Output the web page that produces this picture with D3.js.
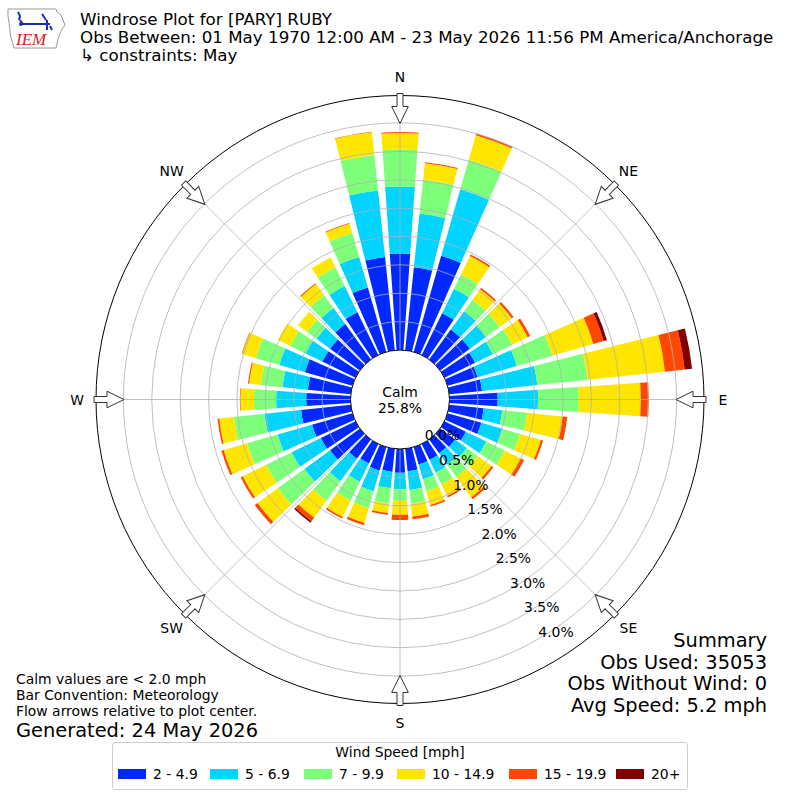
<!DOCTYPE html>
<html><head><meta charset="utf-8">
<script src="https://cdn.jsdelivr.net/npm/d3@7"></script>
<style>
body{margin:0;background:#fff}
svg{display:block}
text{font-family:"DejaVu Sans",sans-serif;fill:#000}
</style>
</head><body><svg id="chart" width="800" height="800"></svg>
<script>
// ---------- data ----------
const directions = d3.range(0, 360, 10);
const speedBins = ["2 - 4.9", "5 - 6.9", "7 - 9.9", "10 - 14.9", "15 - 19.9", "20+"];
const binColors = ["#0028ff", "#00d4ff", "#7dff7a", "#ffe600", "#ff4700", "#800000"];
// percent of observations per direction (0,10,...,350) per speed bin
const bin2to5   = [1.70,1.47,1.76,0.82,0.65,0.65,0.60,0.55,0.58,0.85,0.61,0.62,0.42,0.33,0.30,0.31,0.32,0.40,0.42,0.41,0.43,0.38,0.42,0.65,0.68,0.74,0.88,0.78,0.76,0.87,0.65,0.65,0.77,0.84,1.18,1.65];
const bin5to7   = [1.18,0.95,1.22,0.48,0.40,0.35,0.35,0.72,0.98,0.71,0.33,0.38,0.40,0.25,0.25,0.25,0.27,0.33,0.29,0.29,0.38,0.36,0.49,0.56,0.57,0.63,0.65,0.53,0.45,0.47,0.33,0.30,0.35,0.51,0.56,1.18];
const bin7to10  = [0.65,0.60,0.54,0.28,0.25,0.30,0.38,0.65,0.89,0.72,0.44,0.33,0.36,0.24,0.27,0.23,0.22,0.24,0.20,0.27,0.31,0.37,0.42,0.58,0.50,0.56,0.54,0.39,0.38,0.43,0.30,0.20,0.28,0.37,0.44,0.63];
const bin10to15 = [0.29,0.29,0.45,0.36,0.23,0.26,0.30,0.75,1.37,1.09,0.63,0.38,0.31,0.30,0.44,0.23,0.25,0.23,0.25,0.17,0.27,0.32,0.37,0.44,0.46,0.43,0.26,0.24,0.21,0.25,0.24,0.20,0.24,0.19,0.17,0.40];
const bin15to20 = [0.02,0.02,0.03,0.03,0.03,0.04,0.05,0.19,0.35,0.14,0.08,0.04,0.07,0.04,0.04,0.03,0.03,0.05,0.09,0.03,0.04,0.03,0.08,0.06,0.04,0.04,0.03,0.01,0.02,0.01,0.00,0.00,0.02,0.00,0.01,0.01];
const bin20plus = [0,0,0,0,0,0,0,0.06,0.13,0,0,0,0,0,0,0,0,0,0,0,0,0,0.03,0,0,0,0,0,0,0,0,0,0,0,0,0];
const radialTicks = [0.0, 0.5, 1.0, 1.5, 2.0, 2.5, 3.0, 3.5, 4.0];
const compassLabels = ["N", "NE", "E", "SE", "S", "SW", "W", "NW"];
const calmPct = "25.8%";
const titleLines = ["Windrose Plot for [PARY] RUBY",
  "Obs Between: 01 May 1970 12:00 AM - 23 May 2026 11:56 PM America/Anchorage",
  "\u21b3 constraints: May"];
const noteLines = ["Calm values are < 2.0 mph", "Bar Convention: Meteorology", "Flow arrows relative to plot center."];
const generatedText = "Generated: 24 May 2026";
const summaryLines = ["Summary", "Obs Used: 35053", "Obs Without Wind: 0", "Avg Speed: 5.2 mph"];
const legendTitle = "Wind Speed [mph]";

// ---------- layout ----------
const svg = d3.select("#chart");
const cx = 400, cy = 399.5;
const rScale = d3.scaleLinear().domain([0, 4.5]).range([49.5, 305]);
const outerR = 304;
const rad = d => d * Math.PI / 180;
const binSeries = [bin2to5, bin5to7, bin7to10, bin10to15, bin15to20, bin20plus];

const g = svg.append("g").attr("transform", `translate(${cx},${cy})`);

// stacked bars
const stackData = directions.map((dir, i) => {
  let cum = 0;
  return binSeries.map((s, k) => {
    const seg = {dir, k, v0: cum, v1: cum + s[i]};
    cum += s[i];
    return seg;
  });
}).flat().filter(d => d.v1 > d.v0);

const arc = d3.arc()
  .innerRadius(d => rScale(d.v0))
  .outerRadius(d => rScale(d.v1))
  .startAngle(d => rad(d.dir - 4))
  .endAngle(d => rad(d.dir + 4));

g.append("g").selectAll("path").data(stackData).join("path")
  .attr("d", arc).attr("fill", d => binColors[d.k]);

// grid circles
g.append("g").selectAll("circle").data(radialTicks.filter(t => t > 0)).join("circle")
  .attr("r", d => rScale(d)).attr("fill", "none")
  .attr("stroke", "#b0b0b0").attr("stroke-width", 0.8);

// radial lines
g.append("g").selectAll("line").data(d3.range(0, 360, 45)).join("line")
  .attr("x1", d => rScale(0) * Math.sin(rad(d))).attr("y1", d => -rScale(0) * Math.cos(rad(d)))
  .attr("x2", d => outerR * Math.sin(rad(d))).attr("y2", d => -outerR * Math.cos(rad(d)))
  .attr("stroke", "#b0b0b0").attr("stroke-width", 0.8);

// outer circle
g.append("circle").attr("r", outerR).attr("fill", "none").attr("stroke", "#000").attr("stroke-width", 1);

// calm circle
g.append("circle").attr("r", rScale(0)).attr("fill", "#fff").attr("stroke", "#000").attr("stroke-width", 1);
g.append("text").attr("text-anchor", "middle").attr("y", -3).style("font-size", "13.9px").text("Calm");
g.append("text").attr("text-anchor", "middle").attr("y", 13).style("font-size", "13.9px").text(calmPct);

// arrows pointing inward
const arrowPts = [[306, -3], [293, -3], [293, -8.3], [276, 0], [293, 8.3], [293, 3], [306, 3]];
g.append("g").selectAll("path").data(d3.range(0, 360, 45)).join("path")
  .attr("d", "M" + arrowPts.map(p => p.join(",")).join("L") + "Z")
  .attr("transform", d => `rotate(${d - 90})`)
  .attr("fill", "#fff").attr("stroke", "#333").attr("stroke-width", 1);

// compass labels
g.append("g").selectAll("text").data(compassLabels).join("text")
  .attr("x", (d, i) => 323 * Math.sin(rad(i * 45)))
  .attr("y", (d, i) => -323 * Math.cos(rad(i * 45)))
  .attr("text-anchor", "middle").attr("dominant-baseline", "central")
  .style("font-size", "13.9px").text(d => d);

// radial tick labels
g.append("g").selectAll("text").data(radialTicks).join("text")
  .attr("x", d => rScale(d) * Math.sin(rad(150)))
  .attr("y", d => -rScale(d) * Math.cos(rad(150)) - 2)
  .style("font-size", "13.9px").text(d => d.toFixed(1) + "%");

// ---------- titles ----------
svg.append("g").selectAll("text").data(titleLines).join("text")
  .attr("x", 80).attr("y", (d, i) => 25 + i * 18.2)
  .style("font-size", "16.7px").text(d => d);

svg.append("g").selectAll("text").data(noteLines).join("text")
  .attr("x", 16).attr("y", (d, i) => 684 + i * 16)
  .style("font-size", "13.9px").text(d => d);
svg.append("text").attr("x", 16).attr("y", 737).style("font-size", "19.4px").text(generatedText);

svg.append("g").selectAll("text").data(summaryLines).join("text")
  .attr("x", 767).attr("y", (d, i) => 647 + i * 21.5).attr("text-anchor", "end")
  .style("font-size", "19.4px").text(d => d);

// ---------- legend ----------
const lg = svg.append("g");
lg.append("rect").attr("x", 112.5).attr("y", 742.5).attr("width", 575).attr("height", 47).attr("rx", 3)
  .attr("fill", "#fff").attr("stroke", "#ccc");
lg.append("text").attr("x", 400).attr("y", 757).attr("text-anchor", "middle").style("font-size", "13.9px").text(legendTitle);
const legX = [118, 210, 304, 397, 509, 616];
speedBins.forEach((b, k) => {
  lg.append("rect").attr("x", legX[k]).attr("y", 769).attr("width", 28).attr("height", 10).attr("fill", binColors[k]);
  lg.append("text").attr("x", legX[k] + 35).attr("y", 779).style("font-size", "13.9px").text(b);
});

// ---------- logo ----------
const logo = svg.append("g");
logo.append("path")
  .attr("d", "M8,9 L56,9 L57,12 L61,15 L63,20 L65,25 L62,29 L60,34 L58,39 L57,44 L56,48 L14,48 L13,44 L11,38 L10,31 L9,23 L8,16 Z")
  .attr("fill", "none").attr("stroke", "#999").attr("stroke-width", 1);
logo.append("path").attr("d", "M22,24 L50,24 M42,14 L46,20 M47,20 L47,30 M50,26 L52,30 M18,12 L20,16 L19,20 M20,20 L23,24")
  .attr("fill", "none").attr("stroke", "#1a2fb5").attr("stroke-width", 2);
logo.append("circle").attr("cx", 21).attr("cy", 24).attr("r", 2).attr("fill", "#1a2fb5");
logo.append("text").attr("x", 16).attr("y", 45).style("font-family", "'Liberation Serif',serif")
  .style("font-style", "italic").style("font-size", "17px").style("fill", "#d62020").text("IEM");
</script>
</body></html>
